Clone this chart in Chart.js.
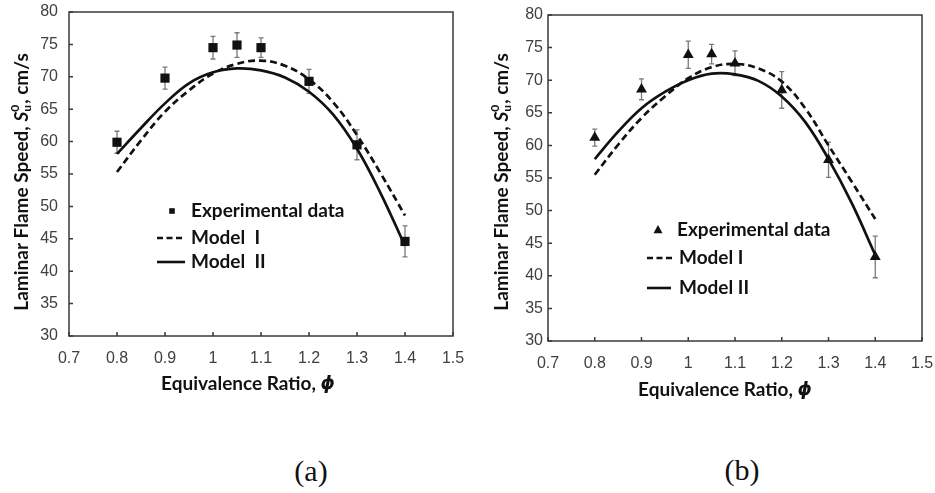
<!DOCTYPE html>
<html>
<head>
<meta charset="utf-8">
<script src="https://cdn.jsdelivr.net/npm/chart.js@4.4.1/dist/chart.umd.min.js"></script>
<style>
  body { margin: 0; background: #fff; width: 935px; height: 493px; position: relative; overflow: hidden; }
  canvas { position: absolute; top: 0; }
  #chartA { left: 0; }
  #chartB { left: 467px; }
  .caption { position: absolute; font-family: "Liberation Serif", "Times New Roman", serif; font-size: 30px; color: #111; transform: translate(-50%, -50%); }
</style>
</head>
<body>
<canvas id="chartA" width="467" height="420"></canvas>
<canvas id="chartB" width="468" height="420"></canvas>
<div class="caption" style="left:311px; top:471px">(a)</div>
<div class="caption" style="left:742px; top:470px">(b)</div>
<script>
/* global Chart */

// measured flame speeds (cm/s) and their error bars
const PHI_EXP = [0.8, 0.9, 1.0, 1.05, 1.1, 1.2, 1.3, 1.4];
const EXP_A = [59.9, 69.8, 74.5, 74.9, 74.5, 69.3, 59.5, 44.6];
const ERR_A = [1.7, 1.7, 1.75, 1.9, 1.5, 1.85, 2.3, 2.4];
const EXP_B = [61.2, 68.6, 73.9, 74.0, 72.6, 68.5, 57.8, 42.9];
const ERR_B = [1.3, 1.6, 2.1, 1.5, 1.9, 2.8, 2.7, 3.2];

// model predictions
const PHI_MODEL = [0.8, 0.85, 0.9, 0.95, 1.0, 1.05, 1.1, 1.15, 1.2, 1.25, 1.3, 1.35, 1.4];
const MODEL_I_A = [55.3, 60.2, 64.6, 67.9, 70.5, 72.0, 72.5, 71.7, 69.6, 66.1, 61.0, 55.0, 48.6];
const MODEL_II_A = [58.1, 62.1, 65.9, 69.0, 70.7, 71.3, 71.0, 69.9, 67.7, 64.2, 58.9, 51.9, 43.9];
const MODEL_I_B = [55.5, 60.1, 64.2, 67.5, 70.3, 72.0, 72.5, 71.8, 69.8, 65.7, 60.0, 54.4, 48.7];
const MODEL_II_B = [57.9, 62.1, 65.7, 68.2, 70.0, 71.0, 70.9, 69.9, 67.5, 63.6, 57.9, 51.1, 43.2];

const X_TICKS = [0.7, 0.8, 0.9, 1, 1.1, 1.2, 1.3, 1.4, 1.5];
const Y_TICKS = [30, 35, 40, 45, 50, 55, 60, 65, 70, 75, 80];

const INK = "#111111",
    FRAME_COLOR = "#3a3a3a",
    TICK_TEXT_COLOR = "#404040",
    ERROR_COLOR = "#7a7a7a",
    LABEL_FONT = "Lato, 'Open Sans', sans-serif";

function toPoints(xs, ys) {
    return xs.map((x, i) => ({ x: x, y: ys[i] }));
}

function drawRich(ctx, parts, cx, cy, angle) {
    ctx.save();
    ctx.translate(cx, cy);
    ctx.rotate(angle);
    ctx.textBaseline = "middle";
    ctx.textAlign = "left";
    let total = 0;
    for (const p of parts) {
        ctx.font = p.font;
        p.w = p.width !== undefined ? p.width : ctx.measureText(p.text).width;
        total += p.advance === false ? 0 : p.w;
    }
    let x = -total / 2;
    for (const p of parts) {
        ctx.font = p.font;
        ctx.fillStyle = INK;
        ctx.fillText(p.text, x, p.dy || 0);
        if (p.advance !== false) x += p.w;
    }
    ctx.restore();
}

function drawMarker(ctx, style, x, y, r) {
    ctx.beginPath();
    if (style === "rect") {
        ctx.rect(x - r, y - r, 2 * r, 2 * r);
    } else {
        ctx.moveTo(x, y - r * 1.1);
        ctx.lineTo(x + r, y + r * 0.7);
        ctx.lineTo(x - r, y + r * 0.7);
        ctx.closePath();
    }
    ctx.fillStyle = INK;
    ctx.fill();
}

const figurePlugin = {
    id: "figure",
    beforeDatasetsDraw(chart, args, opts) {
        const ctx = chart.ctx, xs = chart.scales.x, ys = chart.scales.y;
        ctx.save();
        ctx.strokeStyle = ERROR_COLOR;
        ctx.lineWidth = 1.3;
        opts.errors.forEach((e, i) => {
            const px = xs.getPixelForValue(PHI_EXP[i]);
            const top = ys.getPixelForValue(opts.values[i] + e);
            const bot = ys.getPixelForValue(opts.values[i] - e);
            ctx.beginPath();
            ctx.moveTo(px, top); ctx.lineTo(px, bot);
            ctx.moveTo(px - 2.5, top); ctx.lineTo(px + 2.5, top);
            ctx.moveTo(px - 2.5, bot); ctx.lineTo(px + 2.5, bot);
            ctx.stroke();
        });
        ctx.restore();
    },
    afterDraw(chart, args, opts) {
        const ctx = chart.ctx, area = chart.chartArea;
        const xs = chart.scales.x, ys = chart.scales.y;
        ctx.save();

        // plot frame with inward tick marks
        ctx.strokeStyle = FRAME_COLOR;
        ctx.lineWidth = 1.5;
        ctx.strokeRect(area.left, area.top, area.right - area.left, area.bottom - area.top);
        ctx.beginPath();
        xs.ticks.forEach(t => {
            const px = xs.getPixelForValue(t.value);
            ctx.moveTo(px, area.bottom); ctx.lineTo(px, area.bottom - 4);
        });
        ys.ticks.forEach(t => {
            const py = ys.getPixelForValue(t.value);
            ctx.moveTo(area.left, py); ctx.lineTo(area.left + 4, py);
        });
        ctx.stroke();

        // axis titles
        const bold = "bold 19px " + LABEL_FONT;
        const small = "bold 12px " + LABEL_FONT;
        ctx.font = small;
        const subW = Math.max(ctx.measureText("u").width, ctx.measureText("0").width);
        drawRich(ctx, [
            { text: "Laminar Flame Speed, ", font: bold },
            { text: "S", font: "italic " + bold },
            { text: "u", font: small, dy: 5, advance: false },
            { text: "0", font: small, dy: -7, width: subW + 1 },
            { text: ", cm/s", font: bold },
        ], opts.yTitle[0], opts.yTitle[1], -Math.PI / 2);
        drawRich(ctx, [
            { text: "Equivalence Ratio, ", font: bold },
            { text: "\u03D5", font: "bold oblique 18px 'DejaVu Sans'" },
        ], opts.xTitle[0], opts.xTitle[1], 0);

        // legend
        const lg = opts.legend;
        ctx.font = bold;
        ctx.textBaseline = "middle";
        ctx.textAlign = "left";
        drawMarker(ctx, opts.marker, lg.markerX, lg.rows[0], opts.marker === "rect" ? 2.8 : 4.5);
        ctx.fillStyle = INK;
        ctx.fillText("Experimental data", lg.textX, lg.rows[0]);
        ctx.strokeStyle = INK;
        ctx.lineWidth = 2.6;
        ctx.setLineDash([6, 3.5]);
        ctx.beginPath();
        ctx.moveTo(lg.lineX[0], lg.rows[1]); ctx.lineTo(lg.lineX[1], lg.rows[1]);
        ctx.stroke();
        ctx.setLineDash([]);
        ctx.beginPath();
        ctx.moveTo(lg.lineX[0], lg.rows[2]); ctx.lineTo(lg.lineX[2], lg.rows[2]);
        ctx.stroke();
        ctx.fillText(lg.names[0], lg.textX2, lg.rows[1]);
        ctx.fillText(lg.names[1], lg.textX2, lg.rows[2]);
        ctx.restore();
    },
};

function createChart(canvas, cfg) {
    return new Chart(canvas.getContext("2d"), {
        type: "line",
        data: {
            datasets: [
                {
                    label: "Experimental data",
                    data: toPoints(PHI_EXP, cfg.exp),
                    showLine: false,
                    pointStyle: cfg.marker,
                    pointRadius: cfg.marker === "rect" ? 6.5 : 6.3,
                    pointBackgroundColor: INK,
                    pointBorderWidth: 0,
                },
                {
                    label: "Model I",
                    data: toPoints(PHI_MODEL, cfg.modelI),
                    borderColor: INK,
                    borderWidth: 2.7,
                    borderDash: [7, 4],
                    pointRadius: 0,
                    tension: 0.4,
                },
                {
                    label: "Model II",
                    data: toPoints(PHI_MODEL, cfg.modelII),
                    borderColor: INK,
                    borderWidth: 2.7,
                    pointRadius: 0,
                    tension: 0.4,
                },
            ],
        },
        options: {
            responsive: false,
            animation: false,
            devicePixelRatio: 1,
            layout: { padding: { top: cfg.top, right: cfg.right, left: 0, bottom: 0 } },
            plugins: {
                legend: { display: false },
                tooltip: { enabled: false },
                figure: {
                    errors: cfg.err,
                    values: cfg.exp,
                    marker: cfg.marker,
                    yTitle: cfg.yTitle,
                    xTitle: cfg.xTitle,
                    legend: cfg.legend,
                },
            },
            scales: {
                x: {
                    type: "linear",
                    min: 0.7,
                    max: 1.5,
                    afterBuildTicks: s => { s.ticks = X_TICKS.map(v => ({ value: v })); },
                    afterFit: s => { s.height = cfg.xHeight; s.paddingLeft = 0; s.paddingRight = 0; },
                    grid: { display: false, drawTicks: false },
                    border: { display: false },
                    ticks: {
                        color: TICK_TEXT_COLOR,
                        font: { family: "'Liberation Sans', Arial, sans-serif", size: 16 },
                        padding: 13,
                        maxRotation: 0,
                        autoSkip: false,
                        callback: v => String(v),
                    },
                },
                y: {
                    min: 30,
                    max: 80,
                    afterBuildTicks: s => { s.ticks = Y_TICKS.map(v => ({ value: v })); },
                    afterFit: s => { s.width = cfg.yWidth; s.paddingTop = 0; s.paddingBottom = 0; },
                    grid: { display: false, drawTicks: false },
                    border: { display: false },
                    ticks: {
                        color: TICK_TEXT_COLOR,
                        font: { family: "'Liberation Sans', Arial, sans-serif", size: 16 },
                        padding: cfg.yPad,
                        autoSkip: false,
                        callback: v => String(v),
                    },
                },
            },
        },
        plugins: [figurePlugin],
    });
}

createChart(document.getElementById("chartA"), {
    exp: EXP_A, err: ERR_A, modelI: MODEL_I_A, modelII: MODEL_II_A,
    marker: "rect",
    top: 12, right: 14, yWidth: 69, xHeight: 84, yPad: 11,
    yTitle: [22, 182], xTitle: [248, 384],
    legend: { markerX: 172, textX: 191, textX2: 191, lineX: [157, 185, 185], rows: [211, 238, 262], names: ["Model  I", "Model  II"] },
});

createChart(document.getElementById("chartB"), {
    exp: EXP_B, err: ERR_B, modelI: MODEL_I_B, modelII: MODEL_II_B,
    marker: "triangle",
    top: 15, right: 13, yWidth: 81, xHeight: 79, yPad: 5,
    yTitle: [35, 182], xTitle: [258, 390],
    legend: { markerX: 191, textX: 210, textX2: 212, lineX: [180, 208, 204], rows: [230, 258, 288], names: ["Model I", "Model II"] },
});
</script>
</body>
</html>
